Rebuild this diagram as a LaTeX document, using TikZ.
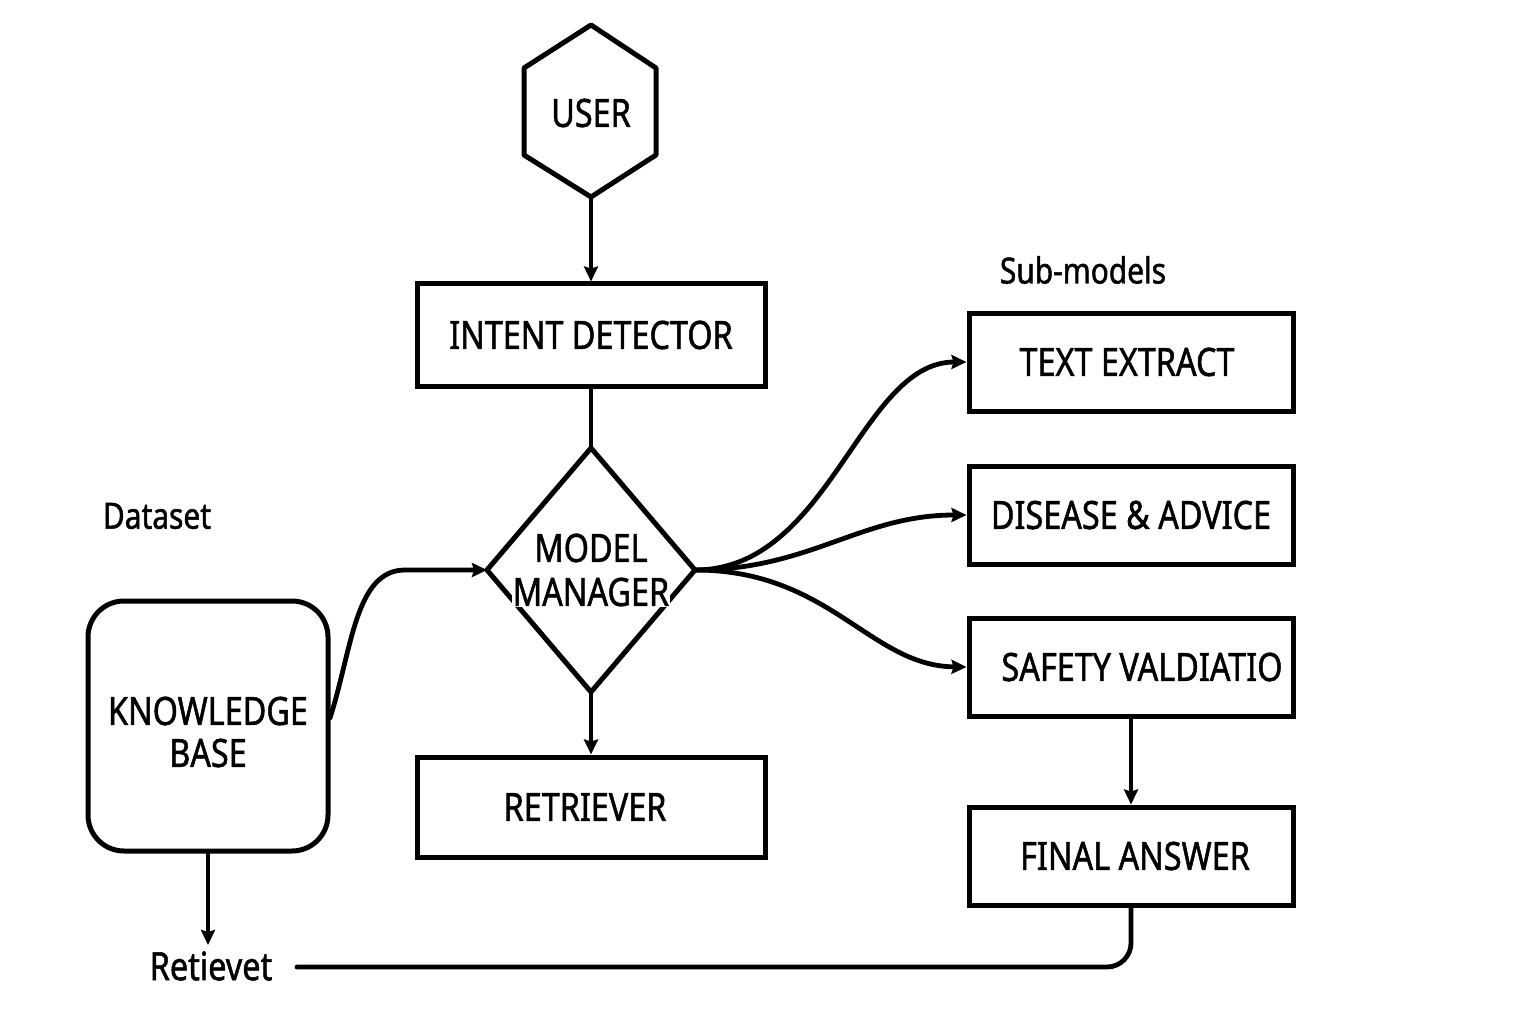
\documentclass[tikz,border=0pt]{standalone}
\usepackage{fontspec}
\setmainfont{Noto Sans}[FakeStretch=0.83, FakeBold=1.3]
\usetikzlibrary{arrows.meta,shapes.geometric}
\tikzset{
  ln/.style={line width=4.8pt, line cap=round, line join=round},
  arr/.style={ln, -{Stealth[inset=2pt,length=15pt,width=14pt]}},
  boxnode/.style={draw, line width=5pt, minimum width=348pt, minimum height=102pt, inner sep=0pt, font=\fontsize{39}{44}\selectfont},
  subbox/.style={draw, line width=5pt, minimum width=324pt, minimum height=98pt, inner sep=0pt, font=\fontsize{39}{44}\selectfont},
  lbl/.style={font=\fontsize{36}{42}\selectfont, inner sep=0pt},
  txt/.style={font=\fontsize{39}{44}\selectfont, inner sep=0pt, align=center}
}
\begin{document}
\begin{tikzpicture}[x=1pt,y=-1pt]
\useasboundingbox (0,0) rectangle (1536,1024);
% USER hexagon
\draw[ln, line width=5pt] (591,25) -- (656,68) -- (656,155) -- (591,197) -- (524,155) -- (524,68) -- cycle;
\node[txt] (user) at (591,113) {USER};
\coordinate (userbot) at (591,197);
% Intent detector
\node[boxnode] (intent) at (591,335) {INTENT DETECTOR};
\draw[arr] (userbot) -- (intent.north);
% Model manager diamond
\coordinate (dtop) at (591,448);
\coordinate (dright) at (695,570);
\coordinate (dbot) at (591,692);
\coordinate (dleft) at (487,570);
\draw[ln, line width=5pt] (dtop) -- (dright) -- (dbot) -- (dleft) -- cycle;
\node[txt] (mm1) at (591,548) {MODEL};
\node[txt, fill=white, inner sep=1pt] (mm2) at (591,592) {MANAGER};
\draw[ln] (intent.south) -- (dtop);
% Retriever
\node[boxnode, minimum height=100pt] (retr) at (591,807) {\hspace*{-12pt}RETRIEVER};
\draw[arr] (dbot) -- (retr.north);
% Dataset / knowledge base
\node[lbl] (dataset) at (157,516) {Dataset};
\node[draw, line width=5pt, rounded corners=36pt, minimum width=240pt, minimum height=250pt] (kb) at (208,726) {};
\node[txt] (kbtext) at (208,732) {KNOWLEDGE\\[-2pt]BASE};
\coordinate (kbr) at (330,718);
\draw[arr] (kbr) .. controls (352,650) and (355,570) .. (405,570) -- (dleft);
\node[txt] (ret) at (211,966) {Retievet};
\draw[arr] (kb.south) -- (208,945) coordinate (retin);
% Sub-models
\node[lbl] (sub) at (1083,270) {Sub-models};
\node[subbox] (te) at (1131,362) {\hspace*{-8pt}TEXT EXTRACT};
\node[subbox] (da) at (1131,515) {DISEASE \& ADVICE};
\node[subbox] (sv) at (1131,667) {\hspace*{22pt}SAFETY VALDIATIO};
\node[subbox] (fa) at (1131,856) {\hspace*{8pt}FINAL ANSWER};
\draw[arr] (dright) .. controls (830,570) and (860,362) .. (te.west);
\draw[arr] (dright) .. controls (810,570) and (860,515) .. (da.west);
\draw[arr] (dright) .. controls (830,570) and (870,666) .. (sv.west);
\draw[arr] (sv.south) -- (fa.north);
\coordinate (retend) at (297,967);
\draw[ln, rounded corners=24pt] (retend) -- (1131,967) -- (fa.south);
\end{tikzpicture}
\end{document}
